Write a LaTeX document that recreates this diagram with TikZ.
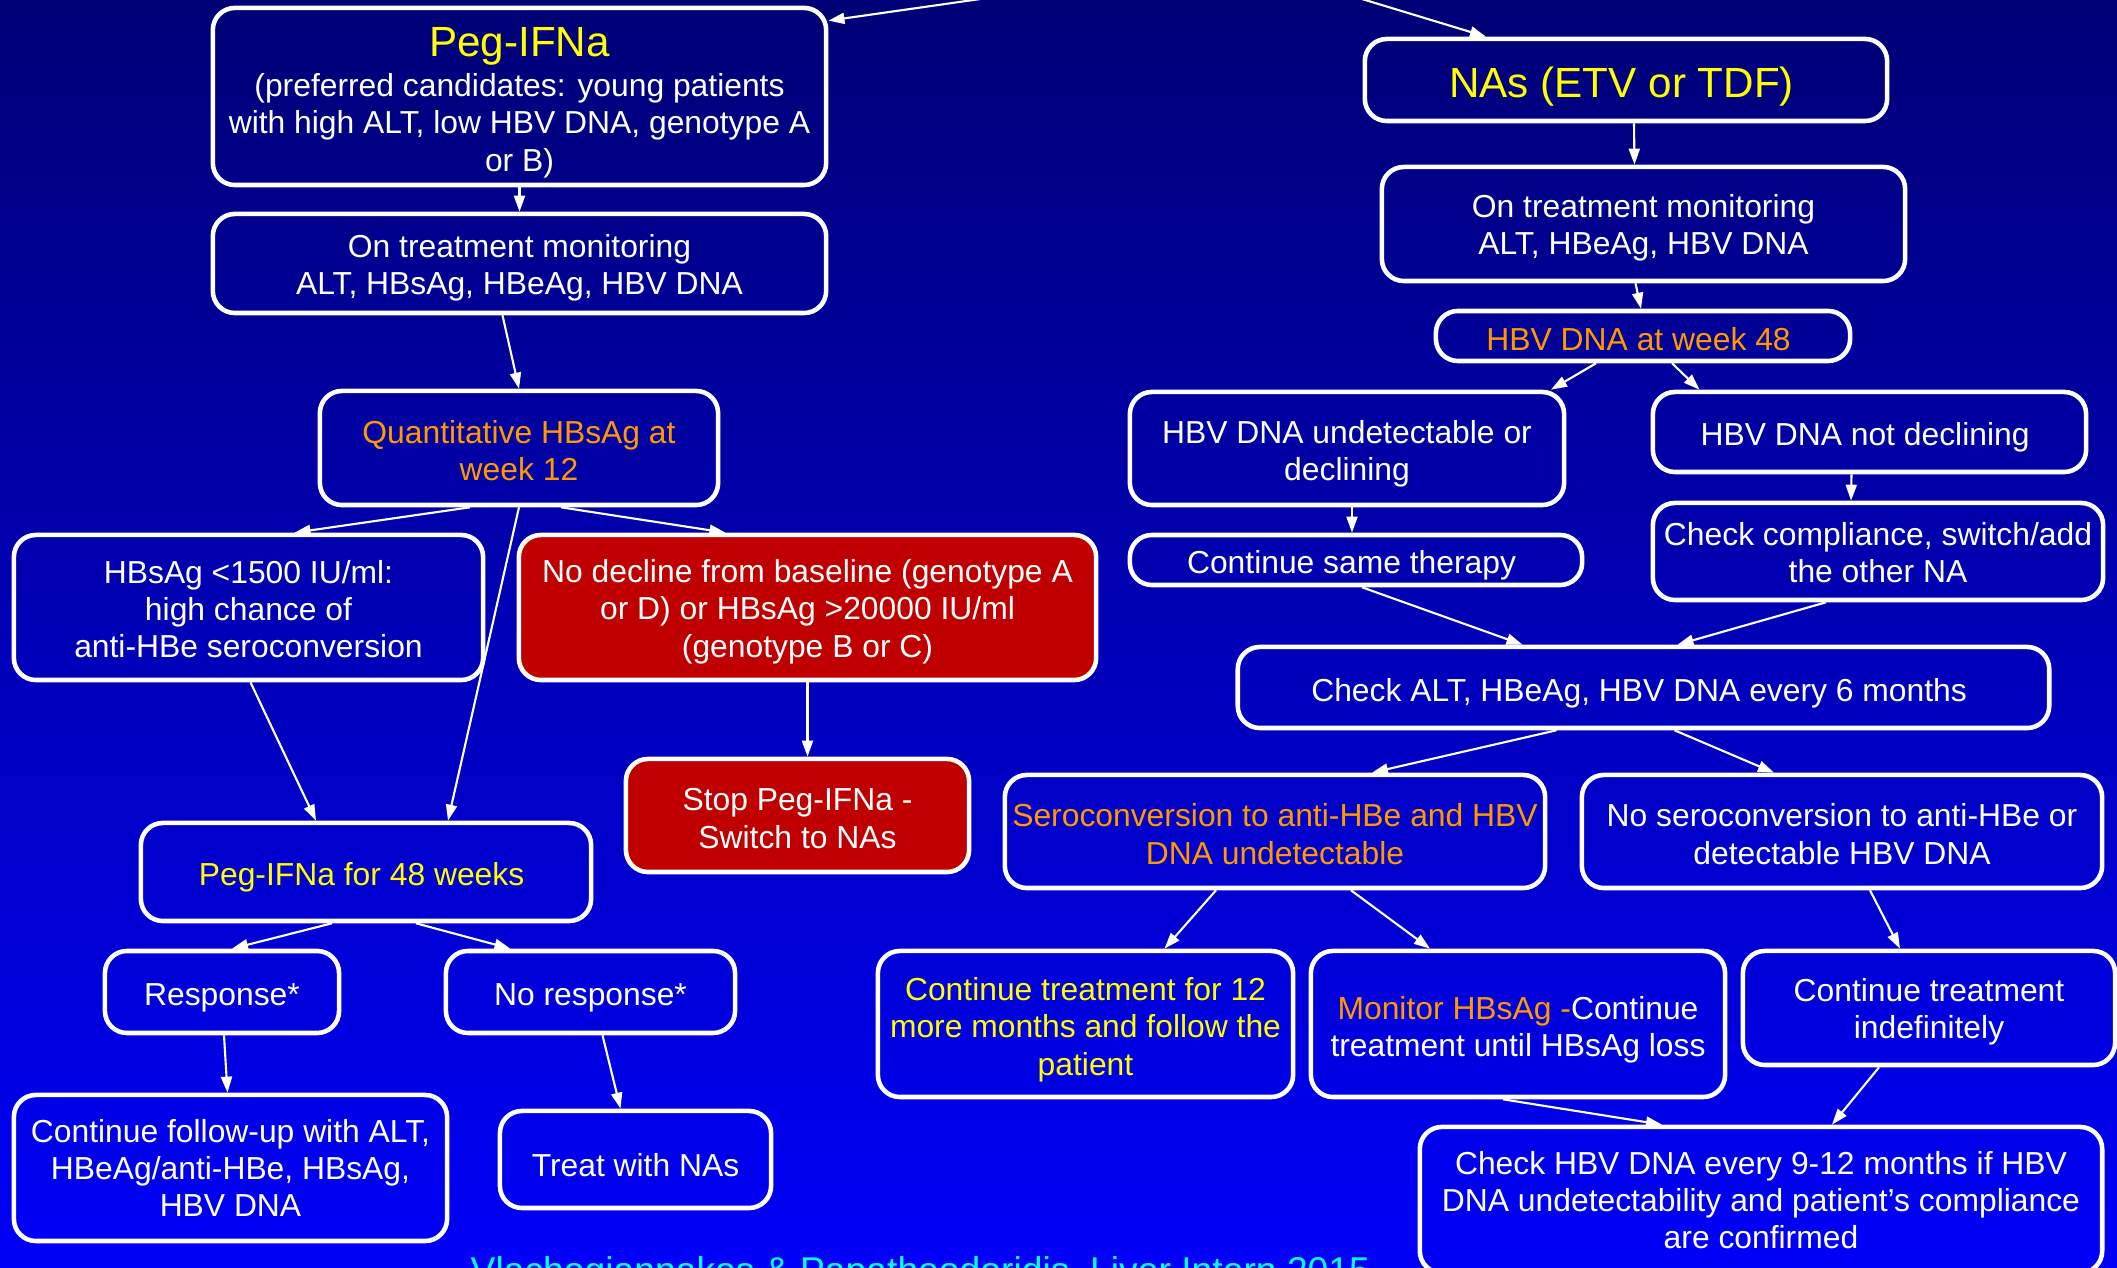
\documentclass[tikz,border=0pt]{standalone}
\usepackage{fontspec}
\setmainfont{Liberation Sans}
\usepackage{xcolor}
\usepackage{tikz}
\usetikzlibrary{arrows.meta,positioning,calc}

\definecolor{bgtop}{RGB}{0,0,118}
\definecolor{bgbot}{RGB}{0,0,248}
\definecolor{boxred}{RGB}{192,0,0}
\definecolor{hiyellow}{RGB}{255,255,0}
\definecolor{hiorange}{RGB}{255,153,0}
\definecolor{citecyan}{RGB}{0,255,255}

\newcommand{\tstrut}[1]{\rule{0pt}{#1}}

\begin{document}
\begin{tikzpicture}[
    x=0.01cm, y=-0.01cm,
    block/.style = {
        rectangle,
        draw=white,
        line width=1.3pt,
        rounded corners=0.22cm,
        inner sep=0pt,
        align=center,
        text=white,
        font=\fontsize{9.05}{10.6}\selectfont,
        execute at begin node={\tstrut{9.7pt}}
    },
    red_block/.style = {
        block,
        fill=boxred
    },
    arrow/.style = {
        -{Triangle[length=0.16cm, width=0.11cm]},
        line width=0.6pt,
        draw=white
    }
]

    \useasboundingbox (0,0) rectangle (2117,1268);
    \clip (0,0) rectangle (2117,1268);
    \shade [top color=bgtop, bottom color=bgbot] (0,0) rectangle (2117,1268);

    % Node Definitions: Peg-IFNa branch
    \node [block, minimum width=6.13cm, minimum height=1.77cm] (peg) at (519.5,96.5) {
        {\fontsize{12}{14}\selectfont\tstrut{11.7pt}\textcolor{hiyellow}{Peg-IFNa}}\\[0.8pt]
        (preferred candidates: young patients\\
        with high ALT, low HBV DNA, genotype A\\
        or B)
    };

    \node [block, minimum width=6.13cm, minimum height=0.99cm] (mon_left) at (519.5,263.5) {
        \tstrut{8.9pt}On treatment monitoring\\
        ALT, HBsAg, HBeAg, HBV DNA
    };

    \node [block, text=hiorange, minimum width=3.98cm, minimum height=1.14cm] (quant) at (519,448) {
        \tstrut{8.1pt}Quantitative HBsAg at\\ week 12
    };

    \node [block, minimum width=4.69cm, minimum height=1.45cm] (low_hbs) at (248.5,607.5) {
        \tstrut{7.4pt}HBsAg <1500 IU/ml:\\ high chance of\\ anti-HBe seroconversion
    };

    \node [red_block, minimum width=5.77cm, minimum height=1.45cm] (no_decline) at (807.5,607.5) {
        \tstrut{8.9pt}No decline from baseline (genotype A\\
        or D) or HBsAg >20000 IU/ml\\
        (genotype B or C)
    };

    \node [red_block, minimum width=3.43cm, minimum height=1.13cm] (stop) at (797.5,815.5) {
        \tstrut{8.1pt}Stop Peg-IFNa -\\ Switch to NAs
    };

    \node [block, text=hiyellow, minimum width=4.50cm, minimum height=0.98cm] (peg48) at (366,872) {
        Peg-IFNa for 48 weeks
    };

    \node [block, minimum width=2.34cm, minimum height=0.82cm] (resp) at (222,992) {Response*};

    \node [block, minimum width=2.89cm, minimum height=0.82cm] (no_resp) at (590.5,992) {No response*};

    \node [block, minimum width=4.33cm, minimum height=1.46cm] (follow) at (230.5,1168) {
        Continue follow-up with ALT,\\
        HBeAg/anti-HBe, HBsAg,\\
        HBV DNA
    };

    \node [block, minimum width=2.71cm, minimum height=0.97cm] (treat_nas) at (635.5,1159.5) {Treat with NAs};

    % Node Definitions: NA branch
    \node [block, minimum width=5.22cm, minimum height=0.82cm] (nas) at (1626,80) {
        {\fontsize{12}{14}\selectfont\tstrut{12.6pt}\textcolor{hiyellow}{NAs (ETV or TDF)}}
    };

    \node [block, minimum width=5.23cm, minimum height=1.14cm] (mon_right) at (1643.5,224) {
        \tstrut{8.9pt}On treatment monitoring\\
        ALT, HBeAg, HBV DNA
    };

    \node [block, text=hiorange, minimum width=4.14cm, minimum height=0.50cm] (wk48) at (1643,336) {
        \raisebox{0.77pt}{HBV DNA at week 48}
    };

    \node [block, minimum width=4.34cm, minimum height=1.13cm] (undet) at (1347,448.5) {
        \tstrut{9.7pt}HBV DNA undetectable or\\ declining
    };

    \node [block, minimum width=4.33cm, minimum height=0.80cm] (not_decl) at (1869.5,432) {
        HBV DNA not declining
    };

    \node [block, minimum width=4.52cm, minimum height=0.50cm] (same) at (1356,560) {
        Continue same therapy
    };

    \node [block, minimum width=4.50cm, minimum height=0.97cm] (compliance) at (1878,551.5) {
        \tstrut{7.4pt}Check compliance, switch/add\\ the other NA
    };

    \node [block, minimum width=8.11cm, minimum height=0.81cm] (six_months) at (1643.5,687.5) {
        Check ALT, HBeAg, HBV DNA every 6 months
    };

    \node [block, text=hiorange, minimum width=5.40cm, minimum height=1.13cm] (sero) at (1275,831.5) {
        \tstrut{8.1pt}Seroconversion to anti-HBe and HBV\\ DNA undetectable
    };

    \node [block, minimum width=5.20cm, minimum height=1.13cm] (no_sero) at (1842,831.5) {
        \tstrut{8.1pt}No seroconversion to anti-HBe or\\ detectable HBV DNA
    };

    \node [block, text=hiyellow, minimum width=4.15cm, minimum height=1.46cm] (cont12) at (1085.5,1024) {
        \tstrut{9.7pt}Continue treatment for 12\\
        more months and follow the\\
        patient
    };

    \node [block, minimum width=4.14cm, minimum height=1.46cm] (mon_hbs) at (1518,1024) {
        \tstrut{9.7pt}\textcolor{hiorange}{Monitor HBsAg -}Continue\\
        treatment until HBsAg loss
    };

    \node [block, minimum width=3.72cm, minimum height=1.14cm] (indef) at (1929,1008) {
        \tstrut{8.9pt}Continue treatment\\ indefinitely
    };

    \node [block, minimum width=6.82cm, minimum height=1.46cm] (check912) at (1761,1200) {
        Check HBV DNA every 9-12 months if HBV\\
        DNA undetectability and patient’s compliance\\
        are confirmed
    };

    \coordinate (start) at (1240,-38);

    \node [anchor=base west, inner sep=0pt, text=citecyan, font=\fontsize{10.6}{12}\selectfont] (cite) at (470,1284) {
        Vlachogiannakos \& Papatheodoridis, Liver Intern 2015
    };

    % Arrows connecting nodes
    \draw [arrow] (start) -- ($(peg.north east)+(0,15)$);
    \draw [arrow] (start) -- ($(nas.north)+(-140,0)$);

    \draw [arrow] (peg.south) -- (mon_left.north);
    \draw [arrow] ($(mon_left.south)+(-17,0)$) -- (quant.north);
    \draw [arrow] ($(quant.south)+(-49,0)$) -- ($(low_hbs.north)+(46,0)$);
    \draw [arrow] ($(quant.south)+(42,0)$) -- ($(no_decline.north)+(-82,0)$);
    \draw [arrow] (quant.south) -- ($(peg48.north)+(82,0)$);
    \draw [arrow] ($(low_hbs.south)+(2,0)$) -- ($(peg48.north)+(-50,0)$);
    \draw [arrow] (no_decline.south) -- ($(stop.north)+(10,0)$);
    \draw [arrow] ($(peg48.south)+(-34,0)$) -- ($(resp.north)+(10,0)$);
    \draw [arrow] ($(peg48.south)+(50,0)$) -- ($(no_resp.north)+(-80,0)$);
    \draw [arrow] ($(resp.south)+(2,0)$) -- ($(follow.north)+(-3,0)$);
    \draw [arrow] ($(no_resp.south)+(12,0)$) -- ($(treat_nas.north)+(-15,0)$);

    \draw [arrow] ($(nas.south)+(8,0)$) -- ($(mon_right.north)+(-9,0)$);
    \draw [arrow] ($(mon_right.south)+(-8,0)$) -- ($(wk48.north)+(-2,0)$);
    \draw [arrow] ($(wk48.south)+(-47,0)$) -- ($(undet.north)+(204,0)$);
    \draw [arrow] ($(wk48.south)+(29,0)$) -- ($(not_decl.north)+(-170,0)$);
    \draw [arrow] ($(undet.south)+(5,0)$) -- ($(same.north)+(-4,0)$);
    \draw [arrow] ($(not_decl.south)+(-18,0)$) -- ($(compliance.north)+(-27,0)$);
    \draw [arrow] ($(same.south)+(6,0)$) -- ($(six_months.north)+(-121,0)$);
    \draw [arrow] ($(compliance.south)+(-52,0)$) -- ($(six_months.north)+(34,0)$);
    \draw [arrow] ($(six_months.south)+(-87,0)$) -- ($(sero.north)+(97,0)$);
    \draw [arrow] ($(six_months.south)+(31,0)$) -- ($(no_sero.north)+(-68,0)$);
    \draw [arrow] ($(sero.south)+(-59,0)$) -- ($(cont12.north)+(79,0)$);
    \draw [arrow] ($(sero.south)+(76,0)$) -- ($(mon_hbs.north)+(-88,0)$);
    \draw [arrow] ($(no_sero.south)+(28,0)$) -- ($(indef.north)+(-29,0)$);
    \draw [arrow] ($(mon_hbs.south)+(-15,0)$) -- ($(check912.north)+(-99,0)$);
    \draw [arrow] ($(indef.south)+(-50,0)$) -- ($(check912.north)+(71,0)$);

\end{tikzpicture}
\end{document}
